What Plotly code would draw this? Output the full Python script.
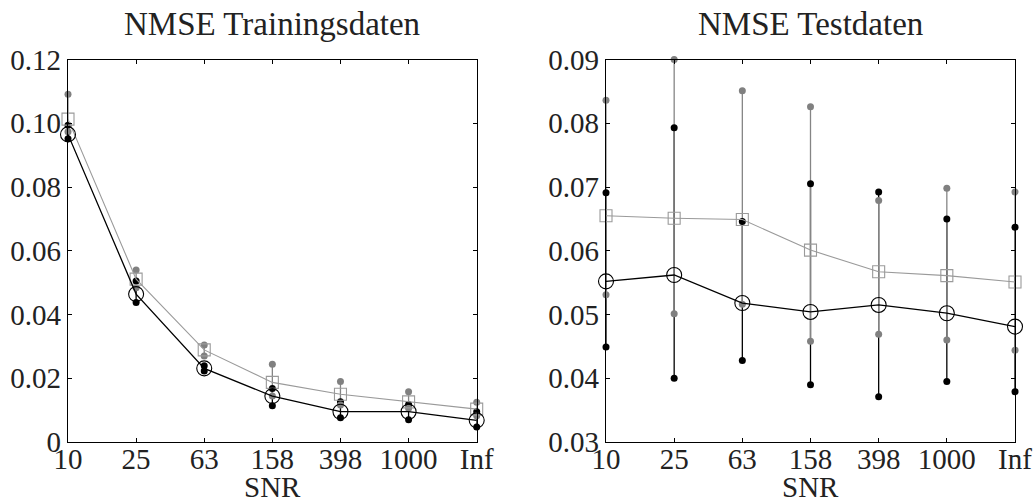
import plotly.graph_objects as go

# SNR categories on the x axis
snr_labels = ["10", "25", "63", "158", "398", "1000", "Inf"]

# Training data NMSE: mean, min and max per SNR (two model variants)
train_black_mean = [0.0965, 0.0464, 0.0231, 0.0144, 0.0095, 0.0095, 0.0068]
train_black_min = [0.0951, 0.0438, 0.0223, 0.0114, 0.0076, 0.0070, 0.0047]
train_black_max = [0.0994, 0.0505, 0.0239, 0.0168, 0.0126, 0.0118, 0.0095]
train_gray_mean = [0.1013, 0.0511, 0.0289, 0.0187, 0.0150, 0.0126, 0.0103]
train_gray_min = [0.0973, 0.0484, 0.0270, 0.0144, 0.0116, 0.0106, 0.0082]
train_gray_max = [0.1091, 0.0540, 0.0304, 0.0244, 0.0190, 0.0158, 0.0125]

# Test data NMSE
test_black_mean = [0.0552, 0.0562, 0.0518, 0.0504, 0.0515, 0.0502, 0.0481]
test_black_min = [0.0449, 0.0400, 0.0428, 0.0390, 0.0371, 0.0395, 0.0379]
test_black_max = [0.0691, 0.0793, 0.0646, 0.0705, 0.0692, 0.0650, 0.0637]
test_gray_mean = [0.0655, 0.0651, 0.0649, 0.0601, 0.0567, 0.0561, 0.0551]
test_gray_min = [0.0531, 0.0501, 0.0516, 0.0458, 0.0469, 0.0460, 0.0444]
test_gray_max = [0.0836, 0.0900, 0.0851, 0.0826, 0.0679, 0.0698, 0.0692]

# Axis ticks
train_yticks = [0, 0.02, 0.04, 0.06, 0.08, 0.10, 0.12]
train_yticktext = ["0", "0.02", "0.04", "0.06", "0.08", "0.10", "0.12"]
test_yticks = [0.03, 0.04, 0.05, 0.06, 0.07, 0.08, 0.09]
test_yticktext = ["0.03", "0.04", "0.05", "0.06", "0.07", "0.08", "0.09"]

FONT = "Liberation Serif"
TEXT = "#222222"
BLACK = "#000000"
GRAY_BAR = "#858585"
GRAY_DOT = "#808080"
GRAY_LINE = "#9a9a9a"

xs = list(range(len(snr_labels)))

fig = go.Figure()


def range_segments(lo, hi):
    sx, sy = [], []
    for i, (a, b) in enumerate(zip(lo, hi)):
        sx += [i, i, None]
        sy += [a, b, None]
    return sx, sy


def add_panel(xref, yref, bmean, bmin, bmax, gmean, gmin, gmax):
    common = dict(xaxis=xref, yaxis=yref, showlegend=False, cliponaxis=False, hoverinfo="skip")
    # vertical min-max ranges (black first, gray drawn over it)
    sx, sy = range_segments(bmin, bmax)
    fig.add_trace(go.Scatter(x=sx, y=sy, mode="lines", line=dict(color=BLACK, width=1.3), **common))
    sx, sy = range_segments(gmin, gmax)
    fig.add_trace(go.Scatter(x=sx, y=sy, mode="lines", line=dict(color=GRAY_BAR, width=1.3), **common))
    # end points of the ranges
    fig.add_trace(go.Scatter(x=xs + xs, y=bmin + bmax, mode="markers",
                             marker=dict(symbol="circle", size=7, color=BLACK), **common))
    fig.add_trace(go.Scatter(x=xs + xs, y=gmin + gmax, mode="markers",
                             marker=dict(symbol="circle", size=7, color=GRAY_DOT), **common))
    # mean curves
    fig.add_trace(go.Scatter(x=xs, y=gmean, mode="lines+markers",
                             line=dict(color=GRAY_LINE, width=1.1),
                             marker=dict(symbol="square-open", size=12, color=GRAY_LINE,
                                         line=dict(width=1.1, color=GRAY_LINE)), **common))
    fig.add_trace(go.Scatter(x=xs, y=bmean, mode="lines+markers",
                             line=dict(color=BLACK, width=1.3),
                             marker=dict(symbol="circle-open", size=15, color=BLACK,
                                         line=dict(width=1.1, color=BLACK)), **common))


add_panel("x", "y", train_black_mean, train_black_min, train_black_max,
          train_gray_mean, train_gray_min, train_gray_max)
add_panel("x2", "y2", test_black_mean, test_black_min, test_black_max,
          test_gray_mean, test_gray_min, test_gray_max)

axis_style = dict(showline=True, linecolor=BLACK, linewidth=1.3, mirror="ticks",
                  ticks="inside", ticklen=4, tickwidth=1, tickcolor=BLACK,
                  showgrid=False, zeroline=False, automargin=False,
                  tickfont=dict(family=FONT, size=29, color=TEXT))

y_dom = [1 - 442 / 501, 1 - 59.5 / 501]
left_dom = [68 / 1036, 476.7 / 1036]
right_dom = [606 / 1036, 1015 / 1036]

fig.update_layout(
    width=1036, height=501,
    margin=dict(l=0, r=0, t=0, b=0, autoexpand=False),
    paper_bgcolor="white", plot_bgcolor="white",
    xaxis=dict(domain=left_dom, range=[0, 6], tickvals=xs, ticktext=snr_labels,
               anchor="y", ticklabelstandoff=-9, **axis_style),
    yaxis=dict(domain=y_dom, range=[0, 0.12], tickvals=train_yticks,
               ticktext=train_yticktext, anchor="x", **axis_style),
    xaxis2=dict(domain=right_dom, range=[0, 6], tickvals=xs, ticktext=snr_labels,
                anchor="y2", ticklabelstandoff=-9, **axis_style),
    yaxis2=dict(domain=y_dom, range=[0.03, 0.09], tickvals=test_yticks,
                ticktext=test_yticktext, anchor="x2", **axis_style),
)

title_font = dict(family=FONT, size=33, color=TEXT)
for dom, text in [(left_dom, "NMSE Trainingsdaten"), (right_dom, "NMSE Testdaten")]:
    cx = (dom[0] + dom[1]) / 2
    fig.add_annotation(x=cx, y=1 - 24 / 501, xref="paper", yref="paper", text=text,
                       showarrow=False, xanchor="center", yanchor="middle", font=title_font)
    fig.add_annotation(x=cx, y=1 - 487 / 501, xref="paper", yref="paper", text="SNR",
                       showarrow=False, xanchor="center", yanchor="middle",
                       font=dict(family=FONT, size=29, color=TEXT))

fig.write_html("out.html")
